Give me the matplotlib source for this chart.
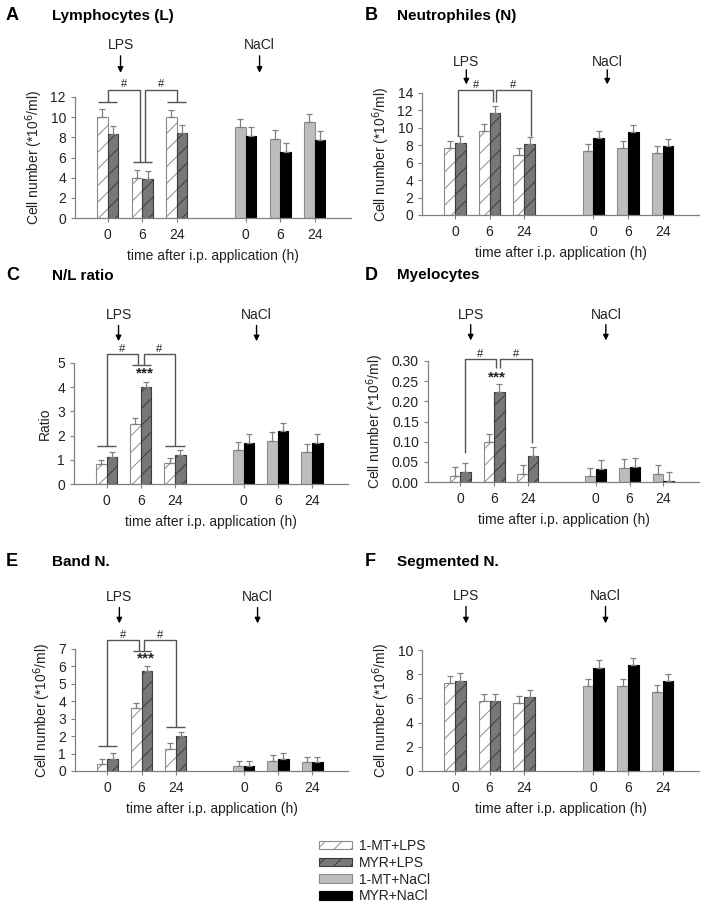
import matplotlib
matplotlib.use('Agg')
import matplotlib.pyplot as plt
from matplotlib.patches import Patch
import numpy as np

plt.rcParams['font.family'] = ['Liberation Sans', 'DejaVu Sans']
plt.rcParams['hatch.linewidth'] = 0.7

hours = ['0', '6', '24']
series_labels = ['1-MT+LPS', 'MYR+LPS', '1-MT+NaCl', 'MYR+NaCl']

# A - lymphocytes
lym_mt_lps = [10.0, 3.95, 10.0]
lym_myr_lps = [8.3, 3.85, 8.45]
lym_mt_nacl = [9.0, 7.85, 9.55]
lym_myr_nacl = [8.1, 6.5, 7.7]
lym_mt_lps_err = [0.8, 0.8, 0.75]
lym_myr_lps_err = [0.8, 0.85, 0.8]
lym_mt_nacl_err = [0.85, 0.85, 0.8]
lym_myr_nacl_err = [0.9, 0.9, 0.9]

# B - neutrophiles
neu_mt_lps = [7.7, 9.6, 6.9]
neu_myr_lps = [8.25, 11.75, 8.2]
neu_mt_nacl = [7.4, 7.7, 7.1]
neu_myr_nacl = [8.8, 9.5, 7.9]
neu_mt_lps_err = [0.75, 0.8, 0.8]
neu_myr_lps_err = [0.8, 0.75, 0.8]
neu_mt_nacl_err = [0.8, 0.75, 0.8]
neu_myr_nacl_err = [0.85, 0.85, 0.8]

# C - N/L ratio
nl_mt_lps = [0.82, 2.49, 0.88]
nl_myr_lps = [1.1, 4.0, 1.2]
nl_mt_nacl = [1.41, 1.78, 1.31]
nl_myr_nacl = [1.7, 2.17, 1.69]
nl_mt_lps_err = [0.18, 0.22, 0.2]
nl_myr_lps_err = [0.24, 0.2, 0.21]
nl_mt_nacl_err = [0.34, 0.35, 0.33]
nl_myr_nacl_err = [0.37, 0.37, 0.38]

# D - myelocytes
mye_mt_lps = [0.014, 0.098, 0.02]
mye_myr_lps = [0.026, 0.223, 0.065]
mye_mt_nacl = [0.014, 0.035, 0.019]
mye_myr_nacl = [0.031, 0.036, 0.002]
mye_mt_lps_err = [0.022, 0.022, 0.022]
mye_myr_lps_err = [0.022, 0.02, 0.023]
mye_mt_nacl_err = [0.021, 0.021, 0.022]
mye_myr_nacl_err = [0.023, 0.023, 0.023]

# E - band neutrophiles
band_mt_lps = [0.4, 3.6, 1.25]
band_myr_lps = [0.67, 5.72, 1.98]
band_mt_nacl = [0.31, 0.58, 0.5]
band_myr_nacl = [0.31, 0.67, 0.5]
band_mt_lps_err = [0.29, 0.33, 0.35]
band_myr_lps_err = [0.35, 0.33, 0.28]
band_mt_nacl_err = [0.29, 0.34, 0.33]
band_myr_nacl_err = [0.29, 0.35, 0.33]

# F - segmented neutrophiles
seg_mt_lps = [7.24, 5.8, 5.64]
seg_myr_lps = [7.46, 5.75, 6.13]
seg_mt_nacl = [7.04, 7.04, 6.49]
seg_myr_nacl = [8.48, 8.76, 7.4]
seg_mt_lps_err = [0.6, 0.6, 0.56]
seg_myr_lps_err = [0.6, 0.6, 0.56]
seg_mt_nacl_err = [0.6, 0.6, 0.6]
seg_myr_nacl_err = [0.68, 0.62, 0.6]

W, H = 704, 907
fig = plt.figure(figsize=(W / 100, H / 100), dpi=100)

GREY = '#808080'
TXT = '#222222'
styles = [
    dict(facecolor='white', edgecolor='#8c8c8c', hatch='//', linewidth=0.8),
    dict(facecolor='#787878', edgecolor='#3c3c3c', hatch='//', linewidth=0.8),
    dict(facecolor='#bdbdbd', edgecolor='#8c8c8c', linewidth=0.8),
    dict(facecolor='black', edgecolor='black', linewidth=0.8),
]
BW = 0.31
groups = [np.arange(3), np.arange(3), np.arange(3) + 4, np.arange(3) + 4]
offsets = [-BW / 2, BW / 2, -BW / 2, BW / 2]


def px_axes(left, top, bottom, width):
    return fig.add_axes([left / W, 1 - bottom / H, width / W, (bottom - top) / H])


def line(ax, xs, ys):
    ax.plot(xs, ys, color='#555555', lw=1.0, clip_on=False, solid_capstyle='butt')


def bracket_short(ax, y_left, y_mid, y_right, y_top, hs):
    line(ax, [-0.28, 0.28], [y_left, y_left])
    line(ax, [0, 0, 0.92, 0.92], [y_left, y_top, y_top, y_mid])
    line(ax, [0.74, 1.29], [y_mid, y_mid])
    line(ax, [1.08, 1.08, 2.0, 2.0], [y_mid, y_top, y_top, y_right])
    line(ax, [1.72, 2.28], [y_right, y_right])
    ax.text(0.46, y_top + hs, '#', ha='center', va='bottom', fontsize=8, color=TXT)
    ax.text(1.54, y_top + hs, '#', ha='center', va='bottom', fontsize=8, color=TXT)


def bracket_plain(ax, xs, y_left, y_mid, y_right, y_top, hs):
    x0, x1, x2, x3 = xs
    line(ax, [x0, x0, x1, x1], [y_left, y_top, y_top, y_mid])
    line(ax, [x2, x2, x3, x3], [y_mid, y_top, y_top, y_right])
    ax.text((x0 + x1) / 2, y_top + hs, '#', ha='center', va='bottom', fontsize=8, color=TXT)
    ax.text((x2 + x3) / 2, y_top + hs, '#', ha='center', va='bottom', fontsize=8, color=TXT)


def draw_panel(ax, vals, errs, ymax, ystep, fmt, ylabel, arrow_y):
    for xs, off, v, e, st in zip(groups, offsets, vals, errs, styles):
        ax.bar(xs + off, v, BW, yerr=[np.zeros(3), e], capsize=2.2,
               error_kw=dict(ecolor=GREY, elinewidth=0.9, capthick=0.9), **st)
    ax.set_xlim(-0.95, 7.05)
    ax.set_ylim(0, ymax)
    ax.spines['top'].set_visible(False)
    ax.spines['right'].set_visible(False)
    for s in ['left', 'bottom']:
        ax.spines[s].set_color(GREY)
        ax.spines[s].set_linewidth(0.9)
    ax.set_xticks([0, 1, 2, 4, 5, 6], hours * 2)
    yt = np.arange(0, ymax + ystep / 2, ystep)
    ax.set_yticks(yt, [fmt.format(t) for t in yt])
    ax.tick_params(axis='both', colors=GREY, labelcolor=TXT, labelsize=10,
                   length=3, width=0.8)
    ax.tick_params(axis='x', pad=4)
    ax.set_xlabel('time after i.p. application (h)', fontsize=10, color=TXT, labelpad=5)
    ax.set_ylabel(ylabel, fontsize=10, color=TXT)
    t_y, a0, a1, xl, xn = arrow_y
    for xa, lab in [(xl, 'LPS'), (xn, 'NaCl')]:
        ax.annotate('', xy=(xa, a1), xytext=(xa, a0),
                    xycoords=('data', 'axes fraction'), textcoords=('data', 'axes fraction'),
                    arrowprops=dict(arrowstyle='-|>', color='black', lw=1.0,
                                    mutation_scale=8, shrinkA=0, shrinkB=0))
        ax.text(xa, t_y, lab, transform=ax.get_xaxis_transform(),
                ha='center', va='center', fontsize=10, color=TXT)


cell_label = 'Cell number (*10$^{6}$/ml)'

axA = px_axes(75, 97, 218, 276)
draw_panel(axA, [lym_mt_lps, lym_myr_lps, lym_mt_nacl, lym_myr_nacl],
           [lym_mt_lps_err, lym_myr_lps_err, lym_mt_nacl_err, lym_myr_nacl_err],
           12, 2, '{:.0f}', cell_label, (1.43, 1.34, 1.2, 0.37, 4.4))
bracket_short(axA, 11.5, 5.55, 11.5, 12.7, 0.05)

axB = px_axes(422, 93, 215, 277)
draw_panel(axB, [neu_mt_lps, neu_myr_lps, neu_mt_nacl, neu_myr_nacl],
           [neu_mt_lps_err, neu_myr_lps_err, neu_mt_nacl_err, neu_myr_nacl_err],
           14, 2, '{:.0f}', cell_label, (1.25, 1.19, 1.07, 0.33, 4.4))
bracket_plain(axB, (0.1, 1.1, 1.18, 2.2), 9.1, 13.0, 9.1, 14.3, 0.05)

axC = px_axes(74, 363, 484, 274)
draw_panel(axC, [nl_mt_lps, nl_myr_lps, nl_mt_nacl, nl_myr_nacl],
           [nl_mt_lps_err, nl_myr_lps_err, nl_mt_nacl_err, nl_myr_nacl_err],
           5, 1, '{:.0f}', 'Ratio', (1.4, 1.31, 1.18, 0.35, 4.38))
bracket_short(axC, 1.57, 4.9, 1.57, 5.37, 0.02)
axC.text(1.12, 4.28, '***', ha='center', va='bottom', fontsize=11, fontweight='bold', color=TXT)

axD = px_axes(428, 361, 482, 271)
draw_panel(axD, [mye_mt_lps, mye_myr_lps, mye_mt_nacl, mye_myr_nacl],
           [mye_mt_lps_err, mye_myr_lps_err, mye_mt_nacl_err, mye_myr_nacl_err],
           0.30, 0.05, '{:.2f}', cell_label, (1.38, 1.3, 1.17, 0.31, 4.3))
bracket_plain(axD, (0.15, 1.05, 1.17, 2.12), 0.072, 0.283, 0.097, 0.305, 0.001)
axD.text(1.1, 0.243, '***', ha='center', va='bottom', fontsize=11, fontweight='bold', color=TXT)

axE = px_axes(75, 649, 771, 273)
draw_panel(axE, [band_mt_lps, band_myr_lps, band_mt_nacl, band_myr_nacl],
           [band_mt_lps_err, band_myr_lps_err, band_mt_nacl_err, band_myr_nacl_err],
           7, 1, '{:.0f}', cell_label, (1.43, 1.34, 1.21, 0.35, 4.4))
bracket_short(axE, 1.43, 6.9, 2.55, 7.5, 0.03)
axE.text(1.12, 6.08, '***', ha='center', va='bottom', fontsize=11, fontweight='bold', color=TXT)

axF = px_axes(422, 650, 771, 277)
draw_panel(axF, [seg_mt_lps, seg_myr_lps, seg_mt_nacl, seg_myr_nacl],
           [seg_mt_lps_err, seg_myr_lps_err, seg_mt_nacl_err, seg_myr_nacl_err],
           10, 2, '{:.0f}', cell_label, (1.45, 1.36, 1.22, 0.32, 4.35))

# panel letters and titles
titles = [('A', 'Lymphocytes (L)', 6, 52, 16), ('B', 'Neutrophiles (N)', 365, 397, 16),
          ('C', 'N/L ratio', 6, 52, 276), ('D', 'Myelocytes', 365, 397, 275),
          ('E', 'Band N.', 6, 52, 562), ('F', 'Segmented N.', 365, 397, 562)]
for letter, name, xl, xt, yt in titles:
    fig.text(xl / W, 1 - yt / H, letter, fontsize=13, fontweight='bold', va='center')
    fig.text(xt / W, 1 - yt / H, name, fontsize=11, fontweight='bold', va='center')

handles = [Patch(**st) for st in styles]
fig.legend(handles, series_labels, loc='upper left', bbox_to_anchor=(312 / W, 1 - 832 / H),
           frameon=False, fontsize=10, handlelength=2.4, handleheight=0.55,
           labelspacing=0.2, handletextpad=0.5, borderpad=0, labelcolor=TXT)

fig.savefig('out.png', dpi=100)
